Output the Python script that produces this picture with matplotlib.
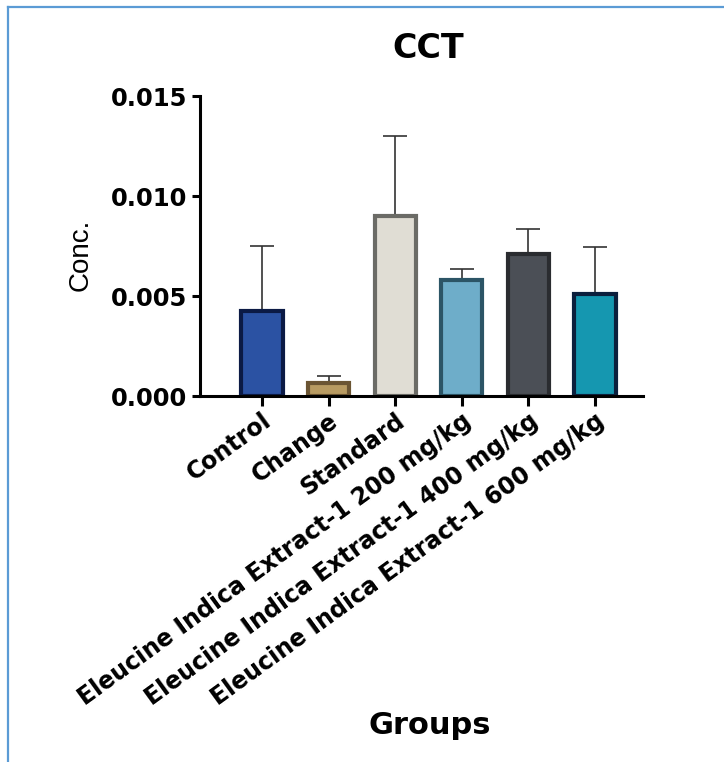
import matplotlib.pyplot as plt
from matplotlib.lines import Line2D
import matplotlib.transforms as mtransforms

# Datos
grupos = ["Control", "Change", "Standard",
          "Eleucine Indica Extract-1 200 mg/kg",
          "Eleucine Indica Extract-1 400 mg/kg",
          "Eleucine Indica Extract-1 600 mg/kg"]
medias = [0.00425, 0.00064, 0.0090, 0.0058, 0.0071, 0.00509]
desv = [0.00323, 0.00037, 0.0040, 0.00055, 0.00125, 0.00234]

relleno = ["#2b52a3", "#b89b62", "#e0ddd4", "#6eadc9", "#4b4f56", "#1597b0"]
borde = ["#0b1a45", "#6b5533", "#6b6b66", "#2c5566", "#2a2c30", "#0b1f3d"]

fig = plt.figure(figsize=(7.24, 7.62), dpi=100)
ax = fig.add_axes([200 / 724, 366 / 762, 443 / 724, 300 / 762])

x = list(range(len(grupos)))

# Barras de error (solo hacia arriba), detrás de las barras
ax.errorbar(x, medias, yerr=[[0] * len(desv), desv], fmt="none",
            ecolor="#333333", elinewidth=1.2, capsize=8.3, capthick=1.2, zorder=1)
ax.bar(x, medias, width=0.62, color=relleno, edgecolor=borde, linewidth=3, zorder=2)

ax.set_xlim(-0.93, 5.72)
ax.set_ylim(0, 0.015)
ax.set_yticks([0, 0.005, 0.010, 0.015])
ax.set_yticklabels(["0.000", "0.005", "0.010", "0.015"],
                   fontfamily="DejaVu Sans", fontweight="bold", fontsize=17.5)
ax.set_xticks(x)
ax.set_xticklabels(grupos, rotation=36, ha="right", va="top", rotation_mode="anchor",
                   fontfamily="DejaVu Sans", fontweight="bold", fontsize=17)

# Desplazar un poco las etiquetas del eje x
offset = mtransforms.ScaledTranslation(8 / 100, 0, fig.dpi_scale_trans)
for lbl in ax.get_xticklabels():
    lbl.set_transform(lbl.get_transform() + offset)

for s in ["top", "right"]:
    ax.spines[s].set_visible(False)
for s in ["left", "bottom"]:
    ax.spines[s].set_linewidth(2.2)
ax.tick_params(axis="x", length=7, width=2.2, pad=2)
ax.tick_params(axis="y", length=6, width=2.2, pad=3)

ax.set_ylabel("Conc.", fontfamily="Liberation Sans", fontsize=20)
ax.yaxis.set_label_coords(-106 / 443, 0.47)

fig.text(428 / 724, 714 / 762, "CCT", ha="center", va="center",
         fontfamily="DejaVu Sans", fontweight="bold", fontsize=24)
fig.text(430 / 724, 37 / 762, "Groups", ha="center", va="center",
         fontfamily="DejaVu Sans", fontweight="bold", fontsize=22)

# Marco azul (solo arriba e izquierda)
fig.add_artist(Line2D([8 / 724, 1], [1 - 7 / 762, 1 - 7 / 762], color="#5b9bd5", lw=1.6))
fig.add_artist(Line2D([8 / 724, 8 / 724], [0, 1 - 7 / 762], color="#5b9bd5", lw=1.6))

fig.savefig("out.png", dpi=100, facecolor="white")
